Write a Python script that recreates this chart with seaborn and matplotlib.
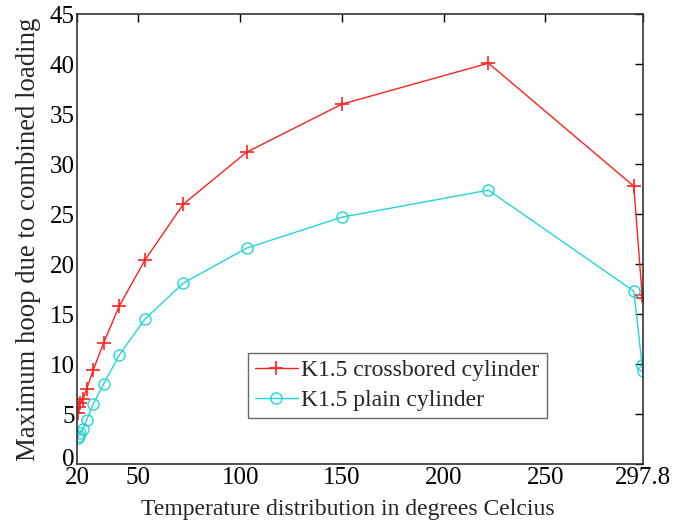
import matplotlib
matplotlib.use("Agg")
import matplotlib.pyplot as plt
import matplotlib.transforms as mtransforms
import seaborn as sns
import pandas as pd

temperature = [20.2, 20.6, 21.2, 22.8, 24.6, 27.8, 32.9, 40.6, 53.2, 72.1,
               103.2, 150.0, 222.0, 293.4, 297.5, 297.8]
crossbored = [5.1, 5.7, 6.1, 6.5, 7.5, 9.4, 12.1, 15.8, 20.4, 26.0,
              31.2, 36.0, 40.1, 27.8, 16.9, 16.6]
plain = [2.6, 2.8, 3.1, 3.5, 4.4, 6.0, 8.0, 10.9, 14.5, 18.1,
         21.6, 24.7, 27.4, 17.3, 9.9, 9.3]
series_names = ["K1.5 crossbored cylinder", "K1.5 plain cylinder"]
xticks = [20, 50, 100, 150, 200, 250, 297.8]
xticklabels = ["20", "50", "100", "150", "200", "250", "297.8"]
yticks = list(range(0, 46, 5))

RED = "#ff2020"
CYAN = "#22d6d6"

sns.set_style("white")
plt.rcParams["font.family"] = ["Liberation Serif", "DejaVu Serif"]

fig = plt.figure(figsize=(6.78, 5.25), dpi=100)
ax = fig.add_axes([0.114, 0.116, 0.834, 0.857])

df1 = pd.DataFrame({"x": temperature, "y": crossbored})
df2 = pd.DataFrame({"x": temperature, "y": plain})
sns.lineplot(data=df1, x="x", y="y", ax=ax, estimator=None, sort=False,
             color=RED, linewidth=1.0, marker="+", markersize=10,
             markeredgecolor=RED, markeredgewidth=1.2, label=series_names[0])
sns.lineplot(data=df2, x="x", y="y", ax=ax, estimator=None, sort=False,
             color=CYAN, linewidth=1.0, marker="o", markersize=8,
             markerfacecolor="none", markeredgecolor=CYAN,
             markeredgewidth=1.0, label=series_names[1])

ax.set_xlim(20, 297.8)
ax.set_ylim(0, 45)
ax.set_xticks(xticks)
ax.set_xticklabels(xticklabels)
ax.set_yticks(yticks)
ax.tick_params(direction="in", length=6, width=1, top=True, right=True,
               labelsize=18, pad=2, colors="black")
for s in ax.spines.values():
    s.set_visible(True)
    s.set_color("#333333")
    s.set_linewidth(1.2)
ax.set_xlabel("Temperature distribution in degrees Celcius", fontsize=17)
ax.xaxis.set_label_coords(0.479, -0.078)
ax.set_ylabel("Maximum hoop due to combined loading", fontsize=19.3, labelpad=6)

# nudge the "0" y tick label up a little so it sits above the "20"
zero_label = ax.get_yticklabels()[0]
zero_label.set_transform(zero_label.get_transform() +
                         mtransforms.ScaledTranslation(0, 5 / 72, fig.dpi_scale_trans))

leg = ax.legend(loc="lower left", bbox_to_anchor=(0.302, 0.102), fontsize=17,
                frameon=True, fancybox=False, edgecolor="#444444",
                handlelength=1.8, handletextpad=0.15, borderpad=0.3,
                labelspacing=0.35, borderaxespad=0)
leg.get_frame().set_linewidth(1.0)

fig.savefig("out.png", dpi=100)
